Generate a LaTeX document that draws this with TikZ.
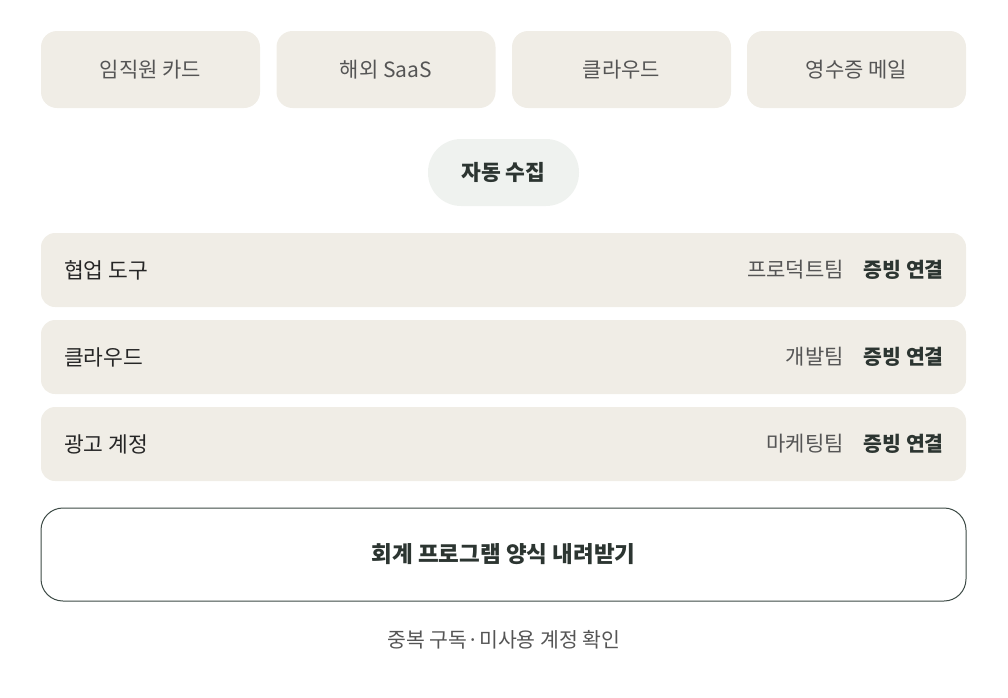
\documentclass[tikz,border=0pt]{standalone}
\usepackage{fontspec}
\setmainfont{Noto Sans CJK KR}
\definecolor{cardfill}{HTML}{F0EDE6}
\definecolor{pillfill}{HTML}{EFF2EF}
\definecolor{textgray}{HTML}{555555}
\definecolor{textdark}{HTML}{2C3531}
\definecolor{edgedark}{HTML}{3C4A45}
\tikzset{
  srcbox/.style={fill=cardfill, rounded corners=16pt, inner sep=0pt,
    minimum width=219pt, minimum height=77pt, text=textgray,
    font=\fontsize{21}{25}\selectfont},
  pillbox/.style={fill=pillfill, rounded corners=33pt, inner sep=0pt,
    minimum width=151pt, minimum height=67pt, text=textdark,
    font=\fontsize{21.5}{25}\selectfont\bfseries},
  rowbox/.style={fill=cardfill, rounded corners=14pt, inner sep=0pt,
    minimum width=925pt, minimum height=74pt},
  rowlabel/.style={anchor=west, inner sep=0pt, text=black!85,
    font=\fontsize{21.5}{25}\selectfont},
  teamlabel/.style={anchor=east, inner sep=0pt, text=textgray,
    font=\fontsize{21}{25}\selectfont},
  linklabel/.style={anchor=east, inner sep=0pt, text=textdark,
    font=\fontsize{20.5}{25}\selectfont\bfseries},
  exportbtn/.style={draw=edgedark, line width=1pt, fill=white,
    rounded corners=22pt, inner sep=0pt, minimum width=925pt,
    minimum height=93pt, text=textdark,
    font=\fontsize{22.5}{27}\selectfont\bfseries},
}
\begin{document}
\begin{tikzpicture}[x=1pt,y=-1pt]
    \useasboundingbox (0,0) rectangle (1008,697);
    % sources
    \node[srcbox] (card) at (150.5,69.5) {임직원 카드};
    \node[srcbox] (saas) at (386,69.5) {해외 SaaS};
    \node[srcbox] (cloud) at (621.5,69.5) {클라우드};
    \node[srcbox] (mail) at (856.5,69.5) {영수증 메일};
    \node[pillbox] (collect) at (503.5,172.5) {자동 수집};
    % rows
    \node[rowbox] (rowa) at (503.5,270) {};
    \node[rowbox] (rowb) at (503.5,357) {};
    \node[rowbox] (rowc) at (503.5,444) {};
    \node[rowlabel] (toola) at (64,270) {협업 도구};
    \node[rowlabel] (toolb) at (64,357) {클라우드};
    \node[rowlabel] (toolc) at (64,444) {광고 계정};
    \node[linklabel] (linka) at (944,270) {증빙 연결};
    \node[linklabel] (linkb) at (944,357) {증빙 연결};
    \node[linklabel] (linkc) at (944,444) {증빙 연결};
    \node[teamlabel] (teama) at (844,270) {프로덕트팀};
    \node[teamlabel] (teamb) at (844,357) {개발팀};
    \node[teamlabel] (teamc) at (844,444) {마케팅팀};
    % export
    \node[exportbtn] (export) at (503.5,554.5) {회계 프로그램 양식 내려받기};
    \node[text=textgray, font=\fontsize{20.5}{25}\selectfont] (check) at (504,640) {중복 구독·미사용 계정 확인};
\end{tikzpicture}
\end{document}
